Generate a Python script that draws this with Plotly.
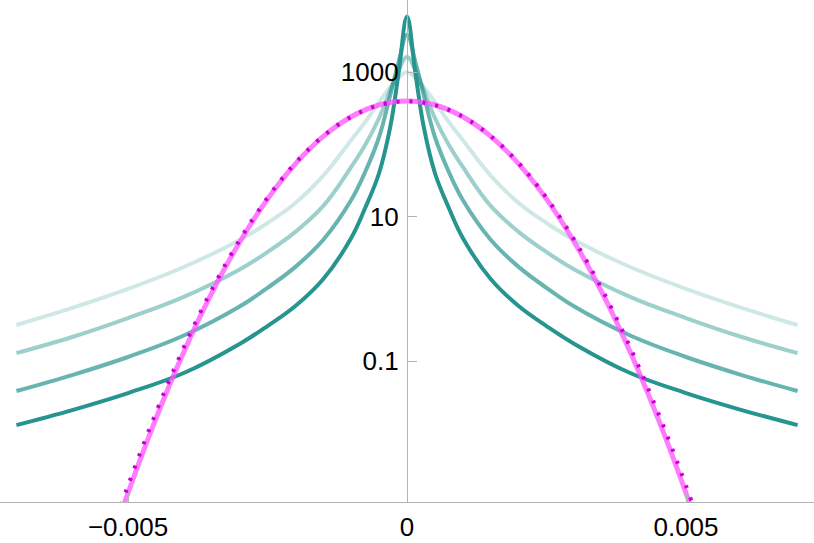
import plotly.graph_objects as go

# half-curves (x >= 0), the plot is symmetric about x = 0
x_tail = [0.0, 0.00015, 0.0003, 0.0005, 0.00075, 0.001, 0.0015, 0.002,
          0.0025, 0.003, 0.004, 0.005, 0.006, 0.007]

dens_1 = [1010, 834, 625, 387, 205, 115, 37.0, 15.5, 8.18, 4.75, 2.01, 1.0, 0.545, 0.316]
dens_2 = [1630, 1076, 569, 233, 98.4, 48.8, 14.1, 6.17, 3.24, 1.86, 0.776, 0.395, 0.216, 0.129]
dens_3 = [3300, 1390, 485, 127, 41.6, 17.0, 4.79, 2.02, 1.035, 0.569, 0.226, 0.114, 0.0641, 0.0385]
dens_4 = [5900, 980, 175, 40.3, 13.2, 5.07, 1.37, 0.579, 0.306, 0.173, 0.0684, 0.0361, 0.0210, 0.0130]

x_gauss = [0.0, 0.0005, 0.001, 0.0015, 0.002, 0.0025, 0.003, 0.0035,
           0.004, 0.0045, 0.005, 0.0055]
gauss = [398.9, 352.1, 242.0, 129.5, 54.0, 17.53, 4.43, 0.873, 0.134, 0.0160, 0.00149, 0.000108]
gauss_dot = [397.0, 351.0, 242.5, 131.0, 55.5, 18.3, 4.75, 0.97, 0.155, 0.0193, 0.00188, 0.000142]

y_tickvals = [0.1, 10, 1000]
y_ticktext = ["0.1", "10", "1000"]
x_tickvals = [-0.005, 0, 0.005]
x_ticktext = ["\u22120.005", "0", "0.005"]


def mirror(xs, ys):
    xx = [-v for v in reversed(xs[1:])] + list(xs)
    yy = list(reversed(ys[1:])) + list(ys)
    return xx, yy


fig = go.Figure()

teal = [(0.22, dens_1), (0.45, dens_2), (0.7, dens_3), (1.0, dens_4)]
for alpha, d in teal:
    xx, yy = mirror(x_tail, d)
    fig.add_trace(go.Scatter(
        x=xx, y=yy, mode='lines',
        line=dict(color=f'rgba(38,148,143,{alpha})', width=4, shape='spline', smoothing=1.1),
        hoverinfo='skip'
    ))

xx, yy = mirror(x_gauss, gauss)
fig.add_trace(go.Scatter(
    x=xx, y=yy, mode='lines',
    line=dict(color='rgba(255,80,255,0.75)', width=5, shape='spline', smoothing=1.0),
    hoverinfo='skip'
))

xx, yy = mirror(x_gauss, gauss_dot)
fig.add_trace(go.Scatter(
    x=xx, y=yy, mode='lines',
    line=dict(color='rgb(200,0,210)', width=4, dash='3px,10px', shape='spline', smoothing=1.0),
    hoverinfo='skip'
))

fig.update_layout(
    width=814, height=543,
    margin=dict(l=0, r=0, t=0, b=41, autoexpand=False),
    plot_bgcolor='white', paper_bgcolor='white',
    showlegend=False,
    font=dict(family='Liberation Sans, Arial, sans-serif', size=26, color='black'),
    xaxis=dict(
        range=[-0.007294, 0.007294],
        showgrid=False, zeroline=False, automargin=False,
        showline=True, linecolor='#b3b3b3', linewidth=1.2,
        ticks='inside', ticklen=8, tickcolor='#b3b3b3',
        tickmode='array', tickvals=x_tickvals, ticktext=x_ticktext,
        ticklabelstandoff=2,
    ),
    yaxis=dict(
        type='log', range=[-2.951, 4.001],
        anchor='free', position=0.5,
        showgrid=False, zeroline=False, automargin=False,
        showline=True, linecolor='#b3b3b3', linewidth=1.2,
        ticks='inside', ticklen=9, tickcolor='#b3b3b3',
        tickmode='array', tickvals=y_tickvals, ticktext=y_ticktext,
        ticklabelstandoff=3,
    ),
)

fig.write_html("out.html", config={'displayModeBar': False},
               post_script="document.body.style.margin='0px';document.body.style.overflow='hidden';")
